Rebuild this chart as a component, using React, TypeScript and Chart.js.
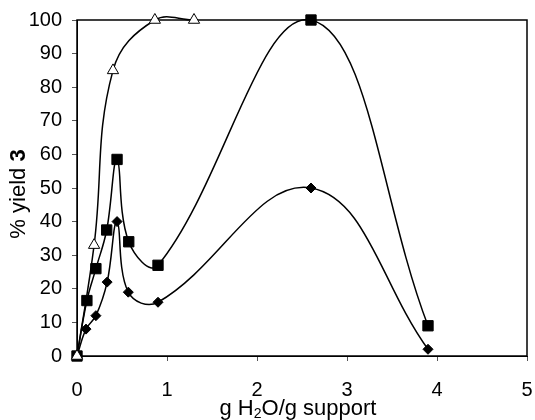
import React, { useEffect, useRef } from 'react';
import { Chart, registerables } from 'chart.js';

Chart.register(...registerables);

// Diamonds (filled)
const diamondX = [0, 0.1, 0.21, 0.335, 0.445, 0.57, 0.9, 2.6, 3.9];
const diamondY = [0, 8, 12, 22, 40, 19, 16, 50, 2];
// Squares (filled)
const squareX = [0, 0.11, 0.21, 0.33, 0.445, 0.575, 0.9, 2.6, 3.9];
const squareY = [0, 16.5, 26, 37.5, 58.5, 34, 27, 100, 9];
// Triangles (open)
const triangleX = [0, 0.19, 0.4, 0.865, 1.3];
const triangleY = [0, 33, 85, 100, 100];

const xTicks = [0, 1, 2, 3, 4, 5];
const yTicks = [0, 10, 20, 30, 40, 50, 60, 70, 80, 90, 100];

const xTitlePre = 'g H';
const xTitleSub = '2';
const xTitlePost = 'O/g support';
const yTitleMain = '% yield ';
const yTitleBold = '3';

const FONT = '"Liberation Sans", Arial, Helvetica, sans-serif';

const toPoints = (xs: number[], ys: number[]) => xs.map((x, i) => ({ x, y: ys[i] }));

const boxPlugin = {
  id: 'plotBox',
  beforeDatasetsDraw(chart: any) {
    const { ctx, chartArea } = chart;
    ctx.save();
    ctx.strokeStyle = '#000';
    ctx.lineWidth = 1.5;
    ctx.strokeRect(chartArea.left, chartArea.top, chartArea.right - chartArea.left, chartArea.bottom - chartArea.top);
    ctx.restore();
  },
};

const titlePlugin = {
  id: 'axisTitles',
  afterDraw(chart: any) {
    const { ctx } = chart;
    ctx.save();
    ctx.fillStyle = '#000';
    ctx.textBaseline = 'alphabetic';
    ctx.textAlign = 'left';
    // X title
    const fMain = `22px ${FONT}`;
    const fSub = `14px ${FONT}`;
    ctx.font = fMain;
    const w1 = ctx.measureText(xTitlePre).width;
    const w3 = ctx.measureText(xTitlePost).width;
    ctx.font = fSub;
    const w2 = ctx.measureText(xTitleSub).width;
    const total = w1 + w2 + w3;
    const cx = 298;
    const base = 415;
    let x = cx - total / 2;
    ctx.font = fMain;
    ctx.fillText(xTitlePre, x, base);
    x += w1;
    ctx.font = fSub;
    ctx.fillText(xTitleSub, x, base + 3);
    x += w2;
    ctx.font = fMain;
    ctx.fillText(xTitlePost, x, base);

    // Y title
    const fBold = `bold 22px ${FONT}`;
    ctx.font = fMain;
    const wa = ctx.measureText(yTitleMain).width;
    ctx.font = fBold;
    const wb = ctx.measureText(yTitleBold).width;
    const ytot = wa + wb;
    ctx.translate(25, 194);
    ctx.rotate(-Math.PI / 2);
    ctx.font = fMain;
    ctx.fillText(yTitleMain, -ytot / 2, 0);
    ctx.font = fBold;
    ctx.fillText(yTitleBold, -ytot / 2 + wa, 0);
    ctx.restore();
  },
};

export default function App() {
  const ref = useRef<HTMLCanvasElement>(null);
  useEffect(() => {
    const canvas = ref.current;
    if (!canvas) return;
    const common = {
      showLine: true,
      borderColor: '#000',
      borderWidth: 1.5,
      tension: 0.4,
      pointBorderColor: '#000',
      pointBorderWidth: 1,
      clip: false as any,
    };
    const chart = new Chart(canvas, {
      type: 'scatter',
      data: {
        datasets: [
          {
            ...common,
            label: 'triangles',
            data: toPoints(triangleX, triangleY),
            pointStyle: 'triangle',
            pointRadius: 6.5,
            pointBackgroundColor: '#fff',
          },
          {
            ...common,
            label: 'squares',
            data: toPoints(squareX, squareY),
            pointStyle: 'rect',
            pointRadius: 7.3,
            pointBackgroundColor: '#000',
          },
          {
            ...common,
            label: 'diamonds',
            data: toPoints(diamondX, diamondY),
            pointStyle: 'rectRot',
            pointRadius: 5,
            pointBackgroundColor: '#000',
          },
        ],
      },
      options: {
        responsive: false,
        animation: false,
        devicePixelRatio: 1,
        layout: { autoPadding: false, padding: { top: 20, right: 8, left: 0, bottom: 0 } },
        elements: { line: { capBezierPoints: false } },
        plugins: {
          legend: { display: false },
          tooltip: { enabled: false },
        },
        scales: {
          x: {
            type: 'linear',
            min: 0,
            max: 5,
            afterFit: (s: any) => {
              s.height = 64;
              s.paddingLeft = 0;
              s.paddingRight = 0;
              s.paddingTop = 0;
              s.paddingBottom = 0;
            },
            afterBuildTicks: (s: any) => {
              s.ticks = xTicks.map((v) => ({ value: v }));
            },
            ticks: {
              color: '#000',
              font: { family: FONT, size: 20 },
              padding: 17,
              maxRotation: 0,
            },
            grid: {
              drawOnChartArea: false,
              drawTicks: true,
              tickLength: 5,
              tickColor: '#555',
            },
            border: { display: true, color: '#000', width: 1 },
          },
          y: {
            type: 'linear',
            min: 0,
            max: 100,
            afterFit: (s: any) => {
              s.width = 77;
              s.paddingLeft = 0;
              s.paddingRight = 0;
              s.paddingTop = 0;
              s.paddingBottom = 0;
            },
            afterBuildTicks: (s: any) => {
              s.ticks = yTicks.map((v) => ({ value: v }));
            },
            ticks: {
              color: '#000',
              font: { family: FONT, size: 20 },
              padding: 10,
            },
            grid: {
              drawOnChartArea: false,
              drawTicks: true,
              tickLength: 5,
              tickColor: '#555',
            },
            border: { display: true, color: '#000', width: 1 },
          },
        },
      },
      plugins: [boxPlugin, titlePlugin],
    });
    return () => chart.destroy();
  }, []);
  return (
    <div style={{ position: 'absolute', left: 0, top: 0, width: 535, height: 420, background: '#fff' }}>
      <canvas ref={ref} width={535} height={420} style={{ display: 'block', width: 535, height: 420 }} />
    </div>
  );
}
